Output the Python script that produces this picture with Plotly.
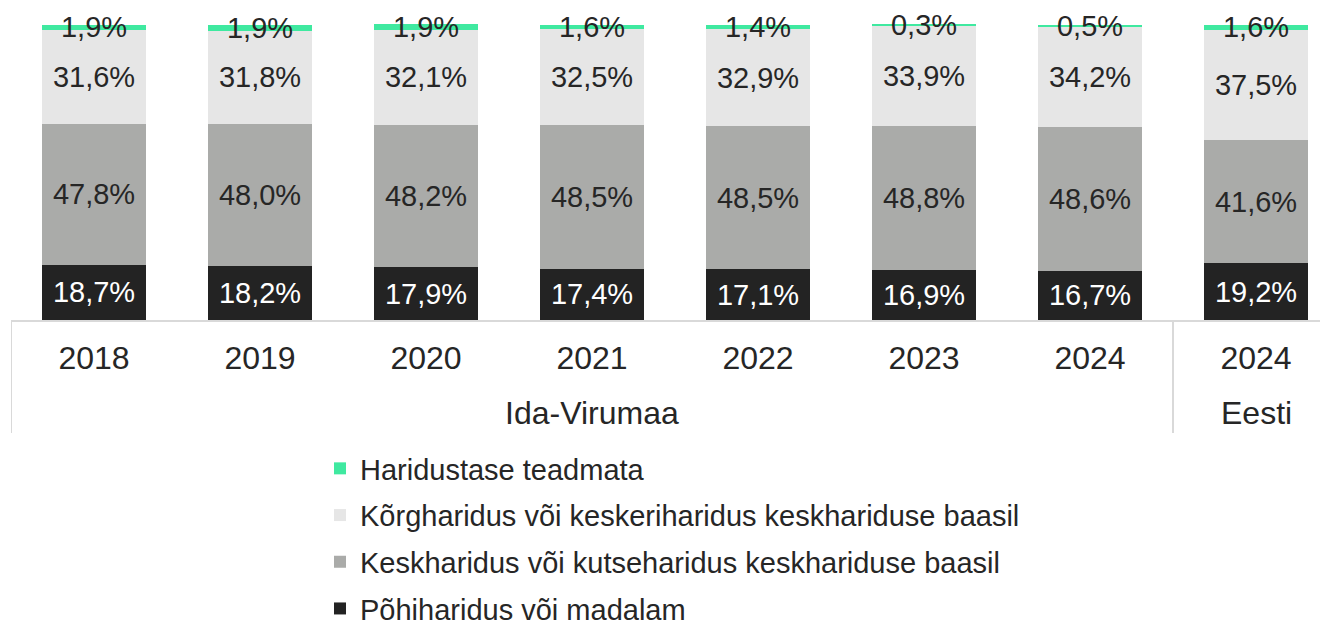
import plotly.graph_objects as go

years = ["2018", "2019", "2020", "2021", "2022", "2023", "2024", "2024"]
groups = ["Ida-Virumaa", "Eesti"]
pohi = [18.7, 18.2, 17.9, 17.4, 17.1, 16.9, 16.7, 19.2]
kesk = [47.8, 48.0, 48.2, 48.5, 48.5, 48.8, 48.6, 41.6]
korg = [31.6, 31.8, 32.1, 32.5, 32.9, 33.9, 34.2, 37.5]
teadmata = [1.9, 1.9, 1.9, 1.6, 1.4, 0.3, 0.5, 1.6]

names = ["Põhiharidus või madalam",
         "Keskharidus või kutseharidus keskhariduse baasil",
         "Kõrgharidus või keskeriharidus keskhariduse baasil",
         "Haridustase teadmata"]
colors = ["#232323", "#aaaba9", "#e6e6e6", "#3fe9a0"]
textcolors = ["#ffffff", "#262626", "#262626", "#262626"]
series = [pohi, kesk, korg, teadmata]

FONT = "Arial, Liberation Sans, sans-serif"
FS = 29
FSA = 32
xs = list(range(len(years)))

fig = go.Figure()
for i, (nm, vals, col, tc) in enumerate(zip(names, series, colors, textcolors)):
    fig.add_trace(go.Bar(
        x=xs, y=vals, name=nm, marker=dict(color=col, line=dict(width=0)),
        texttemplate="%{y:.1f}%", textposition="inside", insidetextanchor="middle",
        textangle=0, constraintext="none", cliponaxis=False,
        textfont=dict(color=tc, size=FS, family=FONT),
        width=104 / 166, legendgroup=nm, legendrank=4 - i,
        hoverinfo="skip",
    ))

# page has an 8px body margin; plot area on page: x 11..1328, y 24..320
fig.update_layout(
    barmode="stack",
    separators=", ",
    width=1328, height=623,
    margin=dict(l=3, r=8, t=16, b=311, autoexpand=False),
    paper_bgcolor="white", plot_bgcolor="white",
    font=dict(family=FONT, size=FS, color="#262626"),
    showlegend=True,
    legend=dict(
        xref="container", yref="container", x=312 / 1328, y=1 - 435 / 623,
        xanchor="left", yanchor="top",
        traceorder="grouped", tracegroupgap=6,
        font=dict(size=FS, color="#262626", family=FONT),
        bgcolor="rgba(0,0,0,0)",
    ),
    xaxis=dict(
        range=[-0.5, -0.5 + 1317 / 166],
        tickvals=xs, ticktext=years, ticks="", showgrid=False, zeroline=False,
        showline=True, linecolor="#d9d9d9", linewidth=2,
        tickfont=dict(size=FSA, color="#262626"), ticklabelstandoff=9,
        tickangle=0,
    ),
    yaxis=dict(range=[0, 100.2], visible=False),
)

# group dividers and labels
for xpos in [-0.5, 6.5]:
    fig.add_shape(type="line", xref="x", yref="paper", x0=xpos, x1=xpos,
                  y0=0, y1=-113 / 296, line=dict(color="#d9d9d9", width=2))
fig.add_annotation(x=(-0.5 + 6.5) / 2, xref="x", y=-93 / 296, yref="paper",
                   text=groups[0], showarrow=False, yanchor="middle",
                   font=dict(size=FSA, color="#262626"))
fig.add_annotation(x=7, xref="x", y=-93 / 296, yref="paper",
                   text=groups[1], showarrow=False, yanchor="middle",
                   font=dict(size=FSA, color="#262626"))

fig.write_html("out.html")
